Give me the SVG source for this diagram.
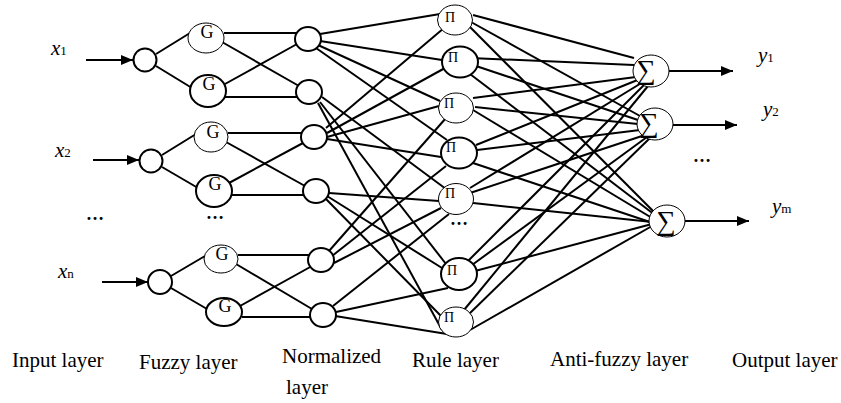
<svg xmlns="http://www.w3.org/2000/svg" width="841" height="403" viewBox="0 0 841 403">
<style>
  .ln { stroke:#000; stroke-width:2; fill:none; }
  .thin { fill:#fff; stroke:#000; stroke-width:1; }
  .thick { fill:#fff; stroke:#000; stroke-width:2; }
  text { font-family:"Liberation Serif","Times New Roman",serif; fill:#000; }
  .lbl { font-size:21px; }
  .g { font-size:18px; text-anchor:middle; }
  .pi { font-size:14px; text-anchor:middle; }
  .sg { font-size:27px; text-anchor:middle; }
  .var { font-size:21px; }
  .it { font-style:italic; }
  .sub { font-size:13px; }
  .dots { font-size:18px; font-weight:bold; }
</style>
<defs>
  <marker id="arr" markerWidth="12" markerHeight="10" refX="12" refY="5" orient="auto" markerUnits="userSpaceOnUse">
    <path d="M0,0 L12,5 L0,10 Z" fill="#000"/>
  </marker>
</defs>

<g id="connectors">
  <!-- input arrows -->
  <line class="ln" x1="86" y1="60" x2="133" y2="60" marker-end="url(#arr)"/>
  <line class="ln" x1="93" y1="160" x2="139" y2="160" marker-end="url(#arr)"/>
  <line class="ln" x1="102" y1="282" x2="148" y2="282" marker-end="url(#arr)"/>
  <!-- input to fuzzy -->
  <line class="ln" x1="156" y1="54" x2="190" y2="33"/>
  <line class="ln" x1="156" y1="66" x2="192" y2="88"/>
  <line class="ln" x1="162" y1="155" x2="196" y2="134"/>
  <line class="ln" x1="162" y1="167" x2="198" y2="188"/>
  <line class="ln" x1="171" y1="276" x2="205" y2="256"/>
  <line class="ln" x1="171" y1="288" x2="207" y2="309"/>
  <!-- fuzzy to normalized -->
  <line class="ln" x1="224" y1="33" x2="296" y2="33"/>
  <line class="ln" x1="222" y1="42" x2="299" y2="86"/>
  <line class="ln" x1="225" y1="84" x2="297" y2="44"/>
  <line class="ln" x1="225" y1="97" x2="297" y2="97"/>
  <line class="ln" x1="228" y1="133" x2="301" y2="133"/>
  <line class="ln" x1="226" y1="142" x2="305" y2="186"/>
  <line class="ln" x1="229" y1="183" x2="303" y2="143"/>
  <line class="ln" x1="232" y1="195" x2="303" y2="195"/>
  <line class="ln" x1="238" y1="255" x2="309" y2="255"/>
  <line class="ln" x1="236" y1="264" x2="312" y2="309"/>
  <line class="ln" x1="240" y1="306" x2="312" y2="266"/>
  <line class="ln" x1="242" y1="317" x2="311" y2="317"/>
  <!-- normalized to rule -->
  <line class="ln" x1="320" y1="34" x2="440" y2="14"/>
  <line class="ln" x1="320" y1="41" x2="442" y2="60"/>
  <line class="ln" x1="318" y1="45" x2="440" y2="101"/>
  <line class="ln" x1="316" y1="48" x2="447" y2="140"/>
  <line class="ln" x1="322" y1="97" x2="446" y2="189"/>
  <line class="ln" x1="320" y1="102" x2="446" y2="264"/>
  <line class="ln" x1="318" y1="103" x2="442" y2="330"/>
  <line class="ln" x1="326" y1="128" x2="444" y2="28"/>
  <line class="ln" x1="327" y1="133" x2="445" y2="68"/>
  <line class="ln" x1="327" y1="137" x2="439" y2="106"/>
  <line class="ln" x1="327" y1="139" x2="441" y2="157"/>
  <line class="ln" x1="329" y1="193" x2="439" y2="201"/>
  <line class="ln" x1="327" y1="196" x2="442" y2="268"/>
  <line class="ln" x1="326" y1="199" x2="441" y2="316"/>
  <line class="ln" x1="329" y1="251" x2="446" y2="118"/>
  <line class="ln" x1="332" y1="256" x2="446" y2="166"/>
  <line class="ln" x1="334" y1="263" x2="441" y2="208"/>
  <line class="ln" x1="333" y1="306" x2="449" y2="214"/>
  <line class="ln" x1="336" y1="312" x2="448" y2="288"/>
  <line class="ln" x1="335" y1="316" x2="447" y2="334"/>
  <!-- rule to anti-fuzzy -->
  <line class="ln" x1="473" y1="15" x2="634" y2="58"/>
  <line class="ln" x1="471" y1="22" x2="640" y2="116"/>
  <line class="ln" x1="467" y1="24" x2="655" y2="213"/>
  <line class="ln" x1="470" y1="58" x2="634" y2="65"/>
  <line class="ln" x1="476" y1="66" x2="638" y2="120"/>
  <line class="ln" x1="470" y1="74" x2="655" y2="215"/>
  <line class="ln" x1="473" y1="98" x2="636" y2="77"/>
  <line class="ln" x1="475" y1="107" x2="638" y2="124"/>
  <line class="ln" x1="473" y1="110" x2="652" y2="218"/>
  <line class="ln" x1="476" y1="145" x2="640" y2="79"/>
  <line class="ln" x1="477" y1="150" x2="640" y2="130"/>
  <line class="ln" x1="470" y1="162" x2="650" y2="222"/>
  <line class="ln" x1="470" y1="188" x2="643" y2="82"/>
  <line class="ln" x1="470" y1="193" x2="645" y2="135"/>
  <line class="ln" x1="473" y1="203" x2="652" y2="222"/>
  <line class="ln" x1="467" y1="262" x2="645" y2="84"/>
  <line class="ln" x1="472" y1="265" x2="647" y2="137"/>
  <line class="ln" x1="475" y1="271" x2="652" y2="224"/>
  <line class="ln" x1="464" y1="310" x2="648" y2="86"/>
  <line class="ln" x1="468" y1="315" x2="650" y2="138"/>
  <line class="ln" x1="470" y1="330" x2="652" y2="226"/>
  <!-- outputs -->
  <line class="ln" x1="669" y1="71" x2="733" y2="71" marker-end="url(#arr)"/>
  <line class="ln" x1="673" y1="125" x2="737" y2="125" marker-end="url(#arr)"/>
  <line class="ln" x1="685" y1="221" x2="749" y2="221" marker-end="url(#arr)"/>
</g>

<g id="input-1"><circle class="thick" cx="145" cy="60" r="11.5"/></g>
<g id="input-2"><circle class="thick" cx="151" cy="161" r="11.5"/></g>
<g id="input-n"><circle class="thick" cx="160" cy="282" r="12"/></g>

<g id="fuzzy-1"><ellipse class="thin" cx="206" cy="38" rx="18" ry="15"/><text class="g" x="207" y="38">G</text></g>
<g id="fuzzy-2"><ellipse class="thick" cx="208" cy="91" rx="18" ry="16"/><text class="g" x="209" y="90">G</text></g>
<g id="fuzzy-3"><ellipse class="thin" cx="211" cy="137" rx="17" ry="15"/><text class="g" x="213" y="138">G</text></g>
<g id="fuzzy-4"><ellipse class="thick" cx="214" cy="191" rx="18" ry="16"/><text class="g" x="215" y="190">G</text></g>
<g id="fuzzy-5"><ellipse class="thin" cx="221" cy="259" rx="17" ry="14"/><text class="g" x="222" y="260">G</text></g>
<g id="fuzzy-6"><ellipse class="thick" cx="224" cy="312" rx="18" ry="14"/><text class="g" x="225" y="312">G</text></g>

<g id="norm-1"><ellipse class="thick" cx="308" cy="39" rx="13" ry="12"/></g>
<g id="norm-2"><ellipse class="thick" cx="309" cy="92" rx="13" ry="12"/></g>
<g id="norm-3"><ellipse class="thick" cx="314" cy="137" rx="13" ry="12"/></g>
<g id="norm-4"><ellipse class="thick" cx="316" cy="191" rx="13" ry="12"/></g>
<g id="norm-5"><ellipse class="thick" cx="321" cy="260" rx="13" ry="12"/></g>
<g id="norm-6"><ellipse class="thick" cx="323" cy="315" rx="13" ry="12"/></g>

<g id="rule-1"><ellipse class="thin" cx="455" cy="20" rx="17.5" ry="15"/><text class="pi" x="450" y="22">Π</text></g>
<g id="rule-2"><ellipse class="thick" cx="460" cy="62" rx="18" ry="15.5"/><text class="pi" x="453" y="62">Π</text></g>
<g id="rule-3"><ellipse class="thin" cx="456" cy="108" rx="17.5" ry="15"/><text class="pi" x="449" y="108">Π</text></g>
<g id="rule-4"><ellipse class="thick" cx="459" cy="153" rx="18" ry="15.5"/><text class="pi" x="451" y="152">Π</text></g>
<g id="rule-5"><ellipse class="thin" cx="456" cy="199" rx="17.5" ry="15.5"/><text class="pi" x="450" y="198">Π</text></g>
<g id="rule-6"><ellipse class="thick" cx="459" cy="274" rx="18" ry="16"/><text class="pi" x="452" y="275">Π</text></g>
<g id="rule-7"><ellipse class="thin" cx="456" cy="322" rx="17.5" ry="15"/><text class="pi" x="449" y="322">Π</text></g>

<g id="defuzz-1"><ellipse class="thin" cx="651" cy="71" rx="18" ry="16"/><text class="sg" x="646" y="79">∑</text></g>
<g id="defuzz-2"><ellipse class="thin" cx="655" cy="124" rx="18" ry="16"/><text class="sg" x="649" y="132">∑</text></g>
<g id="defuzz-m"><ellipse class="thin" cx="667" cy="221" rx="18" ry="16"/><text class="sg" x="666" y="230">∑</text></g>

<g id="labels">
  <text class="var" x="51" y="55"><tspan class="it">x</tspan><tspan class="sub">1</tspan></text>
  <text class="var" x="55" y="157"><tspan class="it">x</tspan><tspan class="sub">2</tspan></text>
  <text class="var" x="58" y="278"><tspan class="it">x</tspan><tspan class="sub">n</tspan></text>
  <text class="var" x="758" y="62"><tspan class="it">y</tspan><tspan class="sub">1</tspan></text>
  <text class="var" x="763" y="116"><tspan class="it">y</tspan><tspan class="sub">2</tspan></text>
  <text class="var" x="772" y="213"><tspan class="it">y</tspan><tspan class="sub">m</tspan></text>
  <text class="dots" x="86" y="220">…</text>
  <text class="dots" x="206" y="219">…</text>
  <text class="dots" x="450" y="225">…</text>
  <text class="dots" x="693" y="162">…</text>
  <text class="lbl" x="12" y="367">Input layer</text>
  <text class="lbl" x="139" y="369">Fuzzy layer</text>
  <text class="lbl" x="282" y="363">Normalized</text>
  <text class="lbl" x="286" y="394">layer</text>
  <text class="lbl" x="412" y="367">Rule layer</text>
  <text class="lbl" x="550" y="366">Anti-fuzzy layer</text>
  <text class="lbl" x="732" y="367">Output layer</text>
</g>
</svg>
